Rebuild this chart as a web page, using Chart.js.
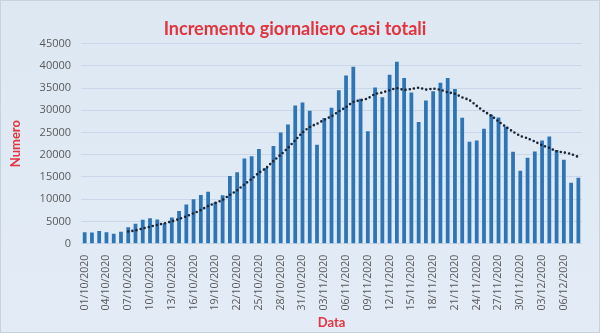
<!DOCTYPE html>
<html>
<head>
<meta charset="utf-8">
<script src="https://cdn.jsdelivr.net/npm/chart.js@4.4.1/dist/chart.umd.min.js"></script>
<style>
  html, body { margin: 0; padding: 0; background: #dfe9f4; }
  #wrap { width: 600px; height: 333px; }
</style>
</head>
<body>
<div id="wrap"><canvas id="myChart" width="600" height="333"></canvas></div>
<script>
// dates 01/10/2020 .. 08/12/2020
const dateLabels = [
    '01/10/2020','02/10/2020','03/10/2020','04/10/2020','05/10/2020','06/10/2020','07/10/2020','08/10/2020','09/10/2020','10/10/2020',
    '11/10/2020','12/10/2020','13/10/2020','14/10/2020','15/10/2020','16/10/2020','17/10/2020','18/10/2020','19/10/2020','20/10/2020',
    '21/10/2020','22/10/2020','23/10/2020','24/10/2020','25/10/2020','26/10/2020','27/10/2020','28/10/2020','29/10/2020','30/10/2020',
    '31/10/2020','01/11/2020','02/11/2020','03/11/2020','04/11/2020','05/11/2020','06/11/2020','07/11/2020','08/11/2020','09/11/2020',
    '10/11/2020','11/11/2020','12/11/2020','13/11/2020','14/11/2020','15/11/2020','16/11/2020','17/11/2020','18/11/2020','19/11/2020',
    '20/11/2020','21/11/2020','22/11/2020','23/11/2020','24/11/2020','25/11/2020','26/11/2020','27/11/2020','28/11/2020','29/11/2020',
    '30/11/2020','01/12/2020','02/12/2020','03/12/2020','04/12/2020','05/12/2020','06/12/2020','07/12/2020','08/12/2020'
];

const newCases = [
    2548, 2499, 2844, 2578, 2257, 2677, 3678, 4458, 5372, 5724,
    5456, 4619, 5901, 7332, 8804, 10010, 10925, 11705, 9338, 10874,
    15199, 16079, 19143, 19644, 21273, 17012, 21994, 24991, 26831, 31084,
    31758, 29907, 22253, 28244, 30550, 34505, 37809, 39811, 32616, 25271,
    35098, 32961, 37978, 40902, 37255, 33979, 27354, 32191, 34283, 36176,
    37242, 34767, 28337, 22930, 23232, 25853, 29003, 28352, 26323, 20648,
    16377, 19350, 20709, 23225, 24099, 21052, 18887, 13720, 14842
];

// 7 day moving average trend (dotted line)
const trend = [
    null, null, null, null, null, null, 2726, 2999, 3409, 3821,
    4232, 4569, 5030, 5552, 6173, 6835, 7578, 8471, 9145, 9855,
    10979, 12019, 13323, 14569, 15936, 17032, 18621, 20019, 21555, 23261,
    24992, 26225, 26974, 27867, 28661, 29757, 30718, 31868, 32255, 32687,
    33666, 34010, 34506, 34948, 34583, 34778, 35075, 34660, 34849, 34591,
    34069, 33713, 32907, 32275, 30995, 29791, 28766, 27496, 26290, 25192,
    24255, 23701, 22966, 22141, 21533, 20780, 20528, 20149, 19505
];

const yTicks = [0, 5000, 10000, 15000, 20000, 25000, 30000, 35000, 40000, 45000];

const redTitle = '#e2343f';

const bgPlugin = {
    id: 'bg',
    beforeDraw: (chart) => {
        const c = chart.ctx;
        const g = c.createLinearGradient(0, 0, 0, chart.height);
        g.addColorStop(0, '#dde8f3');
        g.addColorStop(1, '#e3ecf6');
        c.save();
        c.fillStyle = g;
        c.fillRect(0, 0, chart.width, chart.height);
        c.strokeStyle = '#c8d2dc';
        c.lineWidth = 1;
        c.strokeRect(0.5, 0.5, chart.width - 1, chart.height - 1);
        c.restore();
    }
};

const ctx = document.getElementById('myChart').getContext('2d');
const myChart = new Chart(ctx, {
    type: 'bar',
    data: {
        labels: dateLabels,
        datasets: [{
            type: 'line',
            label: 'Media mobile',
            data: trend,
            borderColor: '#1c2533',
            borderWidth: 2.6,
            borderDash: [0, 4.2],
            borderCapStyle: 'round',
            pointRadius: 0,
            fill: false,
            tension: 0.3,
            order: 0
        }, {
            label: 'Incremento giornaliero',
            data: newCases,
            backgroundColor: '#2e75b6',
            barPercentage: 0.52,
            categoryPercentage: 1.0,
            order: 1
        }]
    },
    options: {
        responsive: false,
        animation: false,
        layout: { padding: { left: 8, right: 18, top: 8, bottom: 2 } },
        plugins: {
            legend: { display: false },
            tooltip: { enabled: false },
            title: {
                display: true,
                text: 'Incremento giornaliero casi totali',
                color: redTitle,
                font: { family: 'Lato', size: 18, weight: 'bold' },
                padding: { top: 10, bottom: 4 }
            }
        },
        scales: {
            x: {
                grid: { display: false },
                border: { display: false },
                ticks: {
                    autoSkip: false,
                    maxRotation: 90,
                    minRotation: 90,
                    color: '#595959',
                    font: { family: 'Open Sans', size: 10.5 },
                    callback: function (val, idx) {
                        return idx % 3 === 0 ? dateLabels[idx] : '';
                    }
                },
                title: {
                    display: true,
                    text: 'Data',
                    color: redTitle,
                    font: { family: 'Lato', size: 13, weight: 'bold' },
                    padding: { top: 2, bottom: 0 }
                }
            },
            y: {
                min: 0,
                max: 45000,
                afterBuildTicks: (axis) => {
                    axis.ticks = yTicks.map(v => ({ value: v }));
                },
                grid: { color: '#c9d7e8', lineWidth: 1, drawTicks: false },
                border: { display: false },
                ticks: {
                    color: '#595959',
                    font: { family: 'Open Sans', size: 11 },
                    padding: 10,
                    callback: (v) => String(v)
                },
                title: {
                    display: true,
                    text: 'Numero',
                    color: redTitle,
                    font: { family: 'Lato', size: 13, weight: 'bold' },
                    padding: { top: 0, bottom: 6 }
                }
            }
        }
    },
    plugins: [bgPlugin]
});
</script>
</body>
</html>
